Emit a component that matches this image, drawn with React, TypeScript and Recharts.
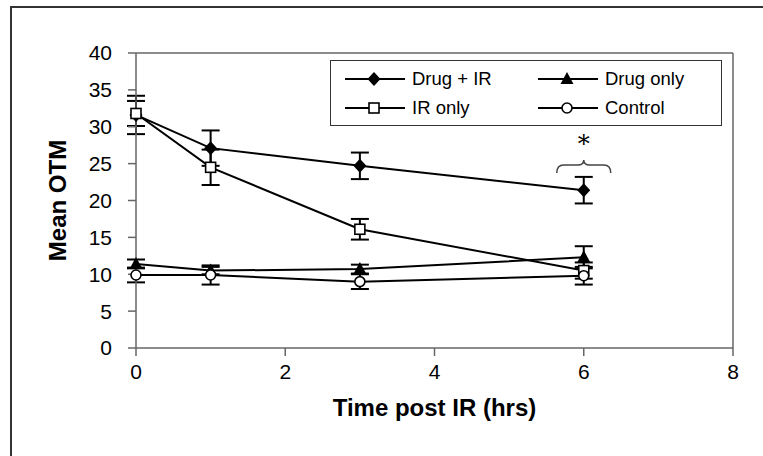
import React from "react";
import {
  LineChart,
  Line,
  XAxis,
  YAxis,
  ErrorBar,
  Legend,
  ReferenceLine,
  ReferenceDot,
} from "recharts";

// hours after irradiation
const times = [0, 1, 3, 6];

const drugIr = [31.6, 27.1, 24.7, 21.4];
const drugIrErr = [2.6, 2.4, 1.8, 1.8];
const irOnly = [31.8, 24.5, 16.1, 10.5];
const irOnlyErr = [1.7, 2.4, 1.4, 1.1];
const drugOnly = [11.4, 10.5, 10.7, 12.3];
const drugOnlyErr = [0.6, 0.5, 0.6, 1.5];
const control = [9.9, 9.9, 9.0, 9.8];
const controlErr = [1.0, 1.3, 1.0, 1.2];

const xTicks = [0, 2, 4, 6, 8];
const yTicks = [0, 5, 10, 15, 20, 25, 30, 35, 40];

const data = times.map((t, i) => ({
  t,
  drugIr: drugIr[i],
  drugIrErr: drugIrErr[i],
  irOnly: irOnly[i],
  irOnlyErr: irOnlyErr[i],
  drugOnly: drugOnly[i],
  drugOnlyErr: drugOnlyErr[i],
  control: control[i],
  controlErr: controlErr[i],
}));

const FONT = '"Liberation Sans", Arial, sans-serif';
const AXIS = "#666";

type Kind = "diamond" | "square" | "triangle" | "circle";

function Marker({ kind, cx, cy }: { kind: Kind; cx: number; cy: number }) {
  if (kind === "diamond")
    return (
      <polygon
        points={`${cx},${cy - 7} ${cx + 6.5},${cy} ${cx},${cy + 7} ${cx - 6.5},${cy}`}
        fill="#000"
      />
    );
  if (kind === "square")
    return (
      <rect x={cx - 5} y={cy - 5} width={10} height={10} fill="#fff" stroke="#000" strokeWidth={1.6} />
    );
  if (kind === "triangle")
    return (
      <polygon points={`${cx},${cy - 7} ${cx + 6.5},${cy + 5} ${cx - 6.5},${cy + 5}`} fill="#000" />
    );
  return <circle cx={cx} cy={cy} r={5} fill="#fff" stroke="#000" strokeWidth={1.6} />;
}

const series: { key: string; name: string; kind: Kind }[] = [
  { key: "drugIr", name: "Drug + IR", kind: "diamond" },
  { key: "drugOnly", name: "Drug only", kind: "triangle" },
  { key: "irOnly", name: "IR only", kind: "square" },
  { key: "control", name: "Control", kind: "circle" },
];

function LegendBox() {
  return (
    <div
      style={{
        position: "relative",
        width: 392,
        height: 66,
        boxSizing: "border-box",
        border: "1.5px solid #333",
        background: "#fff",
        fontFamily: FONT,
        fontSize: 18.5,
      }}
    >
      {series.map((s, i) => {
        const col = i % 2;
        const row = Math.floor(i / 2);
        return (
          <div
            key={s.key}
            style={{
              position: "absolute",
              left: 14 + col * 193,
              top: 8 + row * 29,
              height: 20,
              display: "flex",
              alignItems: "center",
              whiteSpace: "nowrap",
            }}
          >
            <svg width={60} height={20}>
              <line x1={0} y1={10} x2={60} y2={10} stroke="#000" strokeWidth={2} />
              <Marker kind={s.kind} cx={29} cy={10} />
            </svg>
            <span style={{ marginLeft: 7, color: "#000" }}>{s.name}</span>
          </div>
        );
      })}
    </div>
  );
}

function Brace(props: any) {
  const { cx, cy } = props;
  const w = 27;
  const d = `M ${cx - w} ${cy + 13} Q ${cx - w} ${cy + 5} ${cx - w + 7} ${cy + 5} L ${cx - 6} ${cy + 5} Q ${cx} ${cy + 5} ${cx} ${cy} Q ${cx} ${cy + 5} ${cx + 6} ${cy + 5} L ${cx + w - 7} ${cy + 5} Q ${cx + w} ${cy + 5} ${cx + w} ${cy + 13}`;
  return (
    <g>
      <path d={d} fill="none" stroke="#444" strokeWidth={1.5} />
      <text x={cx} y={cy - 8} textAnchor="middle" fontSize={24} fontFamily='"DejaVu Serif", serif' fill="#000">
        *
      </text>
    </g>
  );
}

export default function App() {
  return (
    <div style={{ position: "absolute", left: 0, top: 0, width: 763, height: 456, background: "#fff" }}>
      <div
        style={{
          position: "absolute",
          left: 10,
          top: 6,
          width: 760,
          height: 460,
          borderLeft: "2px solid #333",
          borderTop: "2px solid #333",
        }}
      />
      <LineChart
        width={763}
        height={456}
        data={data}
        margin={{ top: 53, right: 30, bottom: 38, left: 0 }}
        style={{ fontFamily: FONT }}
      >
        <XAxis
          dataKey="t"
          type="number"
          domain={[0, 8]}
          ticks={xTicks}
          stroke={AXIS}
          strokeWidth={1.5}
          tickSize={8}
          tickMargin={8}
          height={70}
          tick={{ fill: "#000", fontSize: 21 }}
          label={{
            value: "Time post IR (hrs)",
            position: "insideBottom",
            offset: 2,
            style: { fontSize: 24, fontWeight: "bold", fill: "#000" },
          }}
        />
        <YAxis
          type="number"
          domain={[0, 40]}
          ticks={yTicks}
          width={136}
          stroke={AXIS}
          strokeWidth={1.5}
          tickSize={8}
          tickMargin={16}
          tick={{ fill: "#000", fontSize: 21 }}
          label={{
            value: "Mean OTM",
            angle: -90,
            position: "insideLeft",
            offset: 57,
            style: { fontSize: 24, fontWeight: "bold", fill: "#000", textAnchor: "middle" },
          }}
        />
        <ReferenceLine y={40} stroke={AXIS} strokeWidth={1.5} />
        <ReferenceLine x={8} stroke={AXIS} strokeWidth={1.5} />
        {series.map((s) => (
          <Line
            key={s.key}
            dataKey={s.key}
            name={s.name}
            stroke="#000"
            strokeWidth={2}
            isAnimationActive={false}
            dot={(p: any) => <Marker key={`${s.key}-${p.index}`} kind={s.kind} cx={p.cx} cy={p.cy} />}
            activeDot={false}
          >
            <ErrorBar dataKey={`${s.key}Err`} width={9} stroke="#000" strokeWidth={2} direction="y" />
          </Line>
        ))}
        <ReferenceDot x={6} y={25.5} r={0} shape={Brace} />
        <Legend
          layout="vertical"
          align="center"
          verticalAlign="middle"
          content={() => <LegendBox />}
          wrapperStyle={{ left: 330, top: 60, width: 392, height: 66 }}
        />
      </LineChart>
    </div>
  );
}
